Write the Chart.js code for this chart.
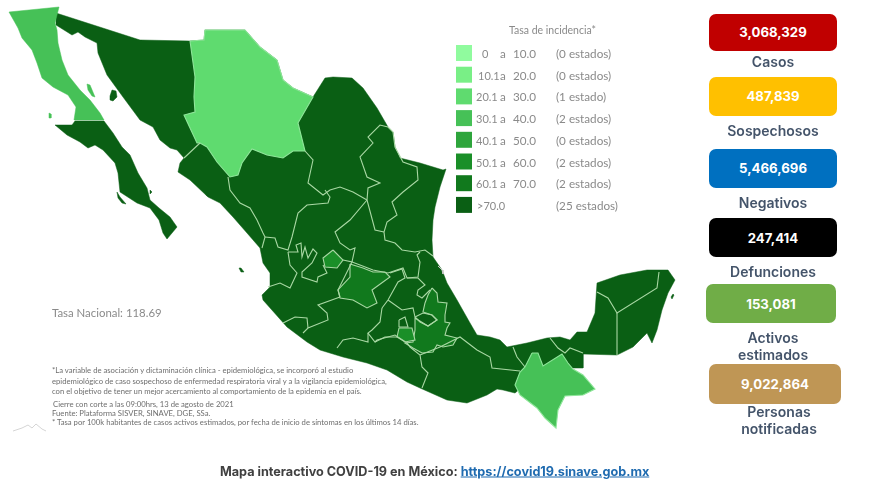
<!DOCTYPE html>
<html lang="es">
<head>
<meta charset="utf-8">
<title>COVID-19 México</title>
<script src="https://cdn.jsdelivr.net/npm/chart.js@4"></script>
<style>
  html, body { margin: 0; padding: 0; background: #fff; }
  #page { position: relative; width: 881px; height: 491px; overflow: hidden; }
  #map { position: absolute; left: 0; top: 0; filter: blur(0.35px); }
  .t { position: absolute; white-space: nowrap; line-height: 1; transform: translateY(-50%); }
  .legend { font: 400 11.7px Lato, sans-serif; color: #8a8a8a; }
  .note { font: 400 7.7px Lato, sans-serif; color: #6e6e6e; }
  .card { position: absolute; border-radius: 7px; color: #fff; font: 700 13.2px Inter, sans-serif;
          display: flex; align-items: center; justify-content: center; }
  .lab { position: absolute; text-align: center; font: 600 14px/16.5px Inter, sans-serif; color: #44546a; transform: translateX(-50%); white-space: nowrap; }
  #foot { left: 220px; top: 471px; font: 700 12.65px Inter, sans-serif; color: #404040; }
  #foot a { color: #1f6bb0; }
</style>
</head>
<body>
<div id="page">
  <canvas id="map" width="881" height="491"></canvas>
</div>
<script>
// Legend
const legendTitle = 'Tasa de incidencia*';
const legendFrom = ['0', '10.1', '20.1', '30.1', '40.1', '50.1', '60.1', '>70.0'];
const legendTo = ['10.0', '20.0', '30.0', '40.0', '50.0', '60.0', '70.0', ''];
const legendCounts = ['(0 estados)', '(0 estados)', '(1 estado)', '(2 estados)', '(0 estados)', '(2 estados)', '(2 estados)', '(25 estados)'];
const legendColors = ['#90fb9e', '#79ef86', '#5fdb6f', '#46c157', '#2ea53c', '#1a8f28', '#11791d', '#0a5f14'];

// Indicator cards
const kpiValues = ['3,068,329', '487,839', '5,466,696', '247,414', '153,081', '9,022,864'];
const kpiLabels = ['Casos', 'Sospechosos', 'Negativos', 'Defunciones', 'Activos<br>estimados', 'Personas<br>notificadas'];
const kpiColors = ['#c00000', '#ffc000', '#0070c0', '#000000', '#70ad47', '#bf9655'];

const nationalRate = 'Tasa Nacional: 118.69';
const notes = [
  '*La variable de asociación y dictaminación clínica - epidemiológica, se incorporó al estudio',
  'epidemiológico de caso sospechoso de enfermedad respiratoria viral y a la vigilancia epidemiológica,',
  'con el objetivo de tener un mejor acercamiento al comportamiento de la epidemia en el país.',
  'Cierre con corte a las 09:00hrs, 13 de agosto de 2021',
  'Fuente: Plataforma SISVER, SINAVE, DGE, SSa.',
  '* Tasa por 100k habitantes de casos activos estimados, por fecha de inicio de síntomas en los últimos 14 días.'
];

// Map outlines in map units
const mainland = [[56,13],[140,40],[190,41],[204,40],[205,30],[245,30],[260,47],[277,60],[283,80],[293,88],[313,97],[325,78],[333,77],[352,78],[363,88],[377,108],[388,127],[393,132],[395,147],[400,158],[420,163],[443,170],[446,169],[440,187],[435,207],[433,220],[432,240],[433,257],[442,270],[447,283],[457,300],[470,323],[477,335],[490,337],[500,340],[507,347],[527,343],[547,338],[560,337],[570,340],[577,332],[587,332],[595,313],[597,283],[620,275],[647,270],[668,270],[675,280],[668,293],[662,310],[657,330],[652,343],[647,333],[633,347],[617,355],[583,354],[583,368],[567,368],[540,372],[515,393],[503,390],[497,389],[487,395],[467,403],[447,400],[420,388],[407,382],[387,370],[367,363],[343,357],[320,350],[307,342],[287,327],[263,300],[262,295],[270,287],[270,273],[263,263],[260,248],[247,233],[233,217],[220,203],[208,197],[190,180],[178,172],[180,163],[184,158],[177,150],[170,148],[160,140],[153,127],[140,120],[123,97],[107,75],[98,53],[97,43],[85,37],[78,32],[72,35],[56,25],[56,13]];
const bajaCalifornia = [[9,12],[59,7],[55,23],[57,30],[58,43],[62,60],[68,75],[80,90],[90,100],[100,113],[104,120],[74,120],[76,107],[68,95],[53,87],[42,78],[37,63],[32,50],[22,38],[18,28],[9,12]];
const bajaSur = [[55,125],[72,125],[75,121],[104,121],[113,133],[122,147],[130,155],[138,173],[147,188],[150,200],[159,208],[170,217],[177,227],[167,239],[163,233],[159,220],[150,208],[137,203],[120,192],[118,173],[115,163],[103,150],[95,145],[88,148],[80,142],[67,135],[55,125]];
const chihuahua = [[190,41],[204,40],[205,30],[245,30],[260,47],[277,60],[283,80],[293,88],[313,97],[298,123],[305,151],[293,151],[283,158],[267,155],[252,149],[242,163],[238,175],[230,177],[217,162],[207,147],[200,143],[197,143],[190,128],[184,115],[195,112],[194,97],[195,77],[190,41]];
const chiapas = [[532,353],[538,353],[543,366],[562,354],[568,363],[573,369],[583,375],[595,389],[583,395],[565,396],[558,410],[556,428],[545,418],[537,408],[520,395],[515,385],[520,372],[525,367],[532,353]];
const guanajuato = [[350,264],[363,268],[373,272],[385,272],[390,277],[383,282],[372,290],[377,303],[367,308],[353,300],[340,298],[338,290],[350,277],[350,264]];
const puebla = [[432,288],[437,293],[438,302],[447,303],[445,315],[445,322],[450,323],[447,328],[445,335],[457,338],[453,345],[443,347],[437,345],[433,352],[422,353],[413,348],[405,343],[413,342],[415,330],[415,318],[428,326],[437,320],[432,315],[423,312],[425,303],[428,295],[432,288]];
const aguascalientes = [[333,250],[343,260],[337,268],[325,267],[323,258],[333,250]];
const morelos = [[399,328],[412,328],[415,340],[405,342],[397,337],[399,328]];

const stateBorders = [
  [[184,158],[200,143]],
  [[228,177],[230,190],[240,203],[250,208],[257,220],[263,233],[265,237],[262,248]],
  [[265,237],[275,238],[278,247],[288,250],[292,237],[298,213],[307,205],[328,203],[330,197],[325,190]],
  [[305,151],[313,160],[308,183],[323,195],[330,190],[340,187],[353,192],[367,200]],
  [[388,127],[380,125],[368,137],[373,143],[360,157],[367,177],[380,183],[368,188],[367,200],[375,230],[384,232]],
  [[388,127],[393,132],[395,147],[403,162],[417,167],[418,180],[403,192],[392,202],[397,215],[387,222],[384,232],[385,240],[395,243],[402,250],[415,252],[425,250],[433,256]],
  [[367,200],[350,220],[335,232],[340,243],[350,250],[355,248],[352,262],[360,265],[373,270],[388,273],[403,268],[407,278],[418,277],[420,262],[417,255],[420,252]],
  [[288,252],[298,252],[296,245],[301,243],[302,257],[305,247],[308,258],[313,249],[317,253],[312,263],[302,272],[302,277],[317,282],[318,277],[327,273],[323,265]],
  [[343,260],[352,262],[338,290],[340,297]],
  [[288,252],[290,265],[297,273],[290,288],[280,283],[268,287]],
  [[340,297],[318,305],[327,313],[328,320],[308,328],[303,333]],
  [[283,323],[295,317],[307,318],[308,328]],
  [[382,308],[380,322],[372,330],[368,333],[375,342],[385,337],[397,337]],
  [[337,348],[343,340],[353,338],[368,342],[368,333]],
  [[375,342],[377,340],[395,335],[407,343],[410,347],[420,355],[422,367],[428,373],[422,388]],
  [[420,355],[440,347],[460,337],[477,350],[490,357],[492,368],[520,371]],
  [[513,347],[517,357],[525,367]],
  [[550,338],[558,348],[565,353],[570,348],[583,353]],
  [[597,292],[608,298],[617,313],[657,288],[659,272]],
  [[617,313],[617,355]],
  [[390,273],[402,269],[405,278],[398,282],[388,300],[382,308]],
  [[388,300],[402,310],[413,308],[415,317]],
  [[407,278],[418,278],[425,285],[418,290],[417,295],[422,298],[430,290]],
  [[415,317],[423,313],[432,315],[437,320],[428,326],[420,322],[415,317]],
  [[399,320],[405,317],[408,327],[399,327],[399,320]]
];
const islandsDark = [
  [[110,96],[112,90],[116,91],[117,97],[113,101],[110,100],[110,96]],
  [[117,192],[120,197],[126,204],[122,203],[118,198],[117,192]],
  [[150,190],[152,192],[150,194],[150,190]],
  [[206,192],[208,193],[208,196],[206,195],[206,192]],
  [[239,268],[241,268],[244,272],[241,272],[239,268]],
  [[671,297],[673,294],[674,295],[672,299],[671,297]]
];
const islandsBaja = [
  [[49,113],[51,114],[51,118],[49,118],[49,113]],
  [[87,84],[90,85],[95,97],[92,96],[88,90],[87,84]]
];
const lagoonLine = [[438,266],[442,270],[443,274]];
const logoLine = [[13,431],[22,428],[28,425],[32,428],[36,424],[42,429],[46,431]];

const NEUTRAL_BORDER = '#a9d8a4';

function toPoints(outline) {
  return outline.map(([x, y]) => ({ x, y }));
}

function shape(outline, color, border) {
  return { data: toPoints(outline), showLine: true, fill: 'shape', backgroundColor: color,
           borderColor: border || color, borderWidth: border ? 1.1 : 0.5, pointRadius: 0, tension: 0, clip: false };
}

function stroke(outline, color, width) {
  return { data: toPoints(outline), showLine: true, fill: false, borderColor: color,
           borderWidth: width, pointRadius: 0, tension: 0, clip: false };
}

function buildDatasets() {
  const sets = [
    shape(mainland, legendColors[7]),
    shape(bajaCalifornia, legendColors[3]),
    shape(bajaSur, legendColors[7]),
    ...islandsDark.map(o => shape(o, legendColors[7])),
    ...islandsBaja.map(o => shape(o, legendColors[3])),
    shape(chihuahua, legendColors[2], '#8fe69a'),
    shape(guanajuato, legendColors[6], NEUTRAL_BORDER),
    shape(puebla, legendColors[6], NEUTRAL_BORDER),
    shape(aguascalientes, legendColors[5], NEUTRAL_BORDER),
    shape(morelos, legendColors[5], NEUTRAL_BORDER),
    ...stateBorders.map(o => stroke(o, NEUTRAL_BORDER, 1.1)),
    shape(chiapas, legendColors[3], '#8fe69a'),
    stroke(lagoonLine, '#c9c9c9', 1),
    stroke(logoLine, '#d5d5d5', 1)
  ];
  // legend swatches
  sets.push({
    data: legendColors.map((c, i) => ({ x: 464, y: 53 + i * 21.7 })),
    pointStyle: 'rect', pointRadius: 11.3, pointBorderWidth: 0,
    pointBackgroundColor: legendColors, showLine: false, clip: false
  });
  // first dataset is painted last by default, so flip it
  sets.forEach((s, i) => { s.order = -i; });
  return sets;
}

new Chart(document.getElementById('map'), {
  type: 'scatter',
  data: { datasets: buildDatasets() },
  options: {
    responsive: false,
    animation: false,
    layout: { padding: 0, autoPadding: false },
    plugins: { legend: { display: false }, tooltip: { enabled: false } },
    scales: {
      x: { type: 'linear', display: false, min: 0, max: 881 },
      y: { type: 'linear', display: false, min: 0, max: 491, reverse: true }
    }
  }
});

// Text and cards
const page = document.getElementById('page');

function addText(text, x, y, cls, extra) {
  const el = document.createElement('div');
  el.className = 't ' + cls;
  el.style.left = x + 'px';
  el.style.top = y + 'px';
  el.textContent = text;
  if (extra) Object.assign(el.style, extra);
  page.appendChild(el);
  return el;
}

addText(legendTitle, 509, 30, 'legend', { fontSize: '10.5px' });
legendFrom.forEach((from, i) => {
  const y = 53 + i * 21.7;
  const x = i === 0 ? 482 : (i === 7 ? 477 : (i === 1 ? 478 : 476));
  addText(from, x, y, 'legend', { fontSize: '11px' });
  if (legendTo[i]) {
    addText('a', 500, y, 'legend');
    addText(legendTo[i], 513, y, 'legend');
  }
  addText(legendCounts[i], 556, y, 'legend');
});

addText(nationalRate, 52, 312, 'legend', { fontSize: '11.4px' });
const noteY = [370, 380.5, 391, 404, 413, 421.5];
const noteX = [52, 52, 52, 53, 52, 52];
notes.forEach((n, i) => addText(n, noteX[i], noteY[i], 'note'));

const cardBoxes = [[709, 13.5, 128, 37], [709, 76.5, 128, 39], [709, 148.5, 128, 39], [709, 218, 128, 39], [706, 284, 130, 39], [709, 364, 132, 40]];
const labelPos = [[773, 54], [773, 123], [773, 195], [773, 264], [773, 330], [779, 404]];
kpiValues.forEach((v, i) => {
  const [x, y, w, h] = cardBoxes[i];
  const card = document.createElement('div');
  card.className = 'card';
  Object.assign(card.style, { left: x + 'px', top: y + 'px', width: w + 'px', height: h + 'px', background: kpiColors[i] });
  card.textContent = v;
  page.appendChild(card);
  const lab = document.createElement('div');
  lab.className = 'lab';
  lab.style.left = labelPos[i][0] + 'px';
  lab.style.top = labelPos[i][1] + 'px';
  lab.innerHTML = kpiLabels[i];
  page.appendChild(lab);
});

const foot = addText('Mapa interactivo COVID-19 en México: ', 220, 471, '');
foot.id = 'foot';
const link = document.createElement('a');
link.href = 'https://covid19.sinave.gob.mx';
link.textContent = 'https://covid19.sinave.gob.mx';
foot.appendChild(link);
</script>
</body>
</html>
